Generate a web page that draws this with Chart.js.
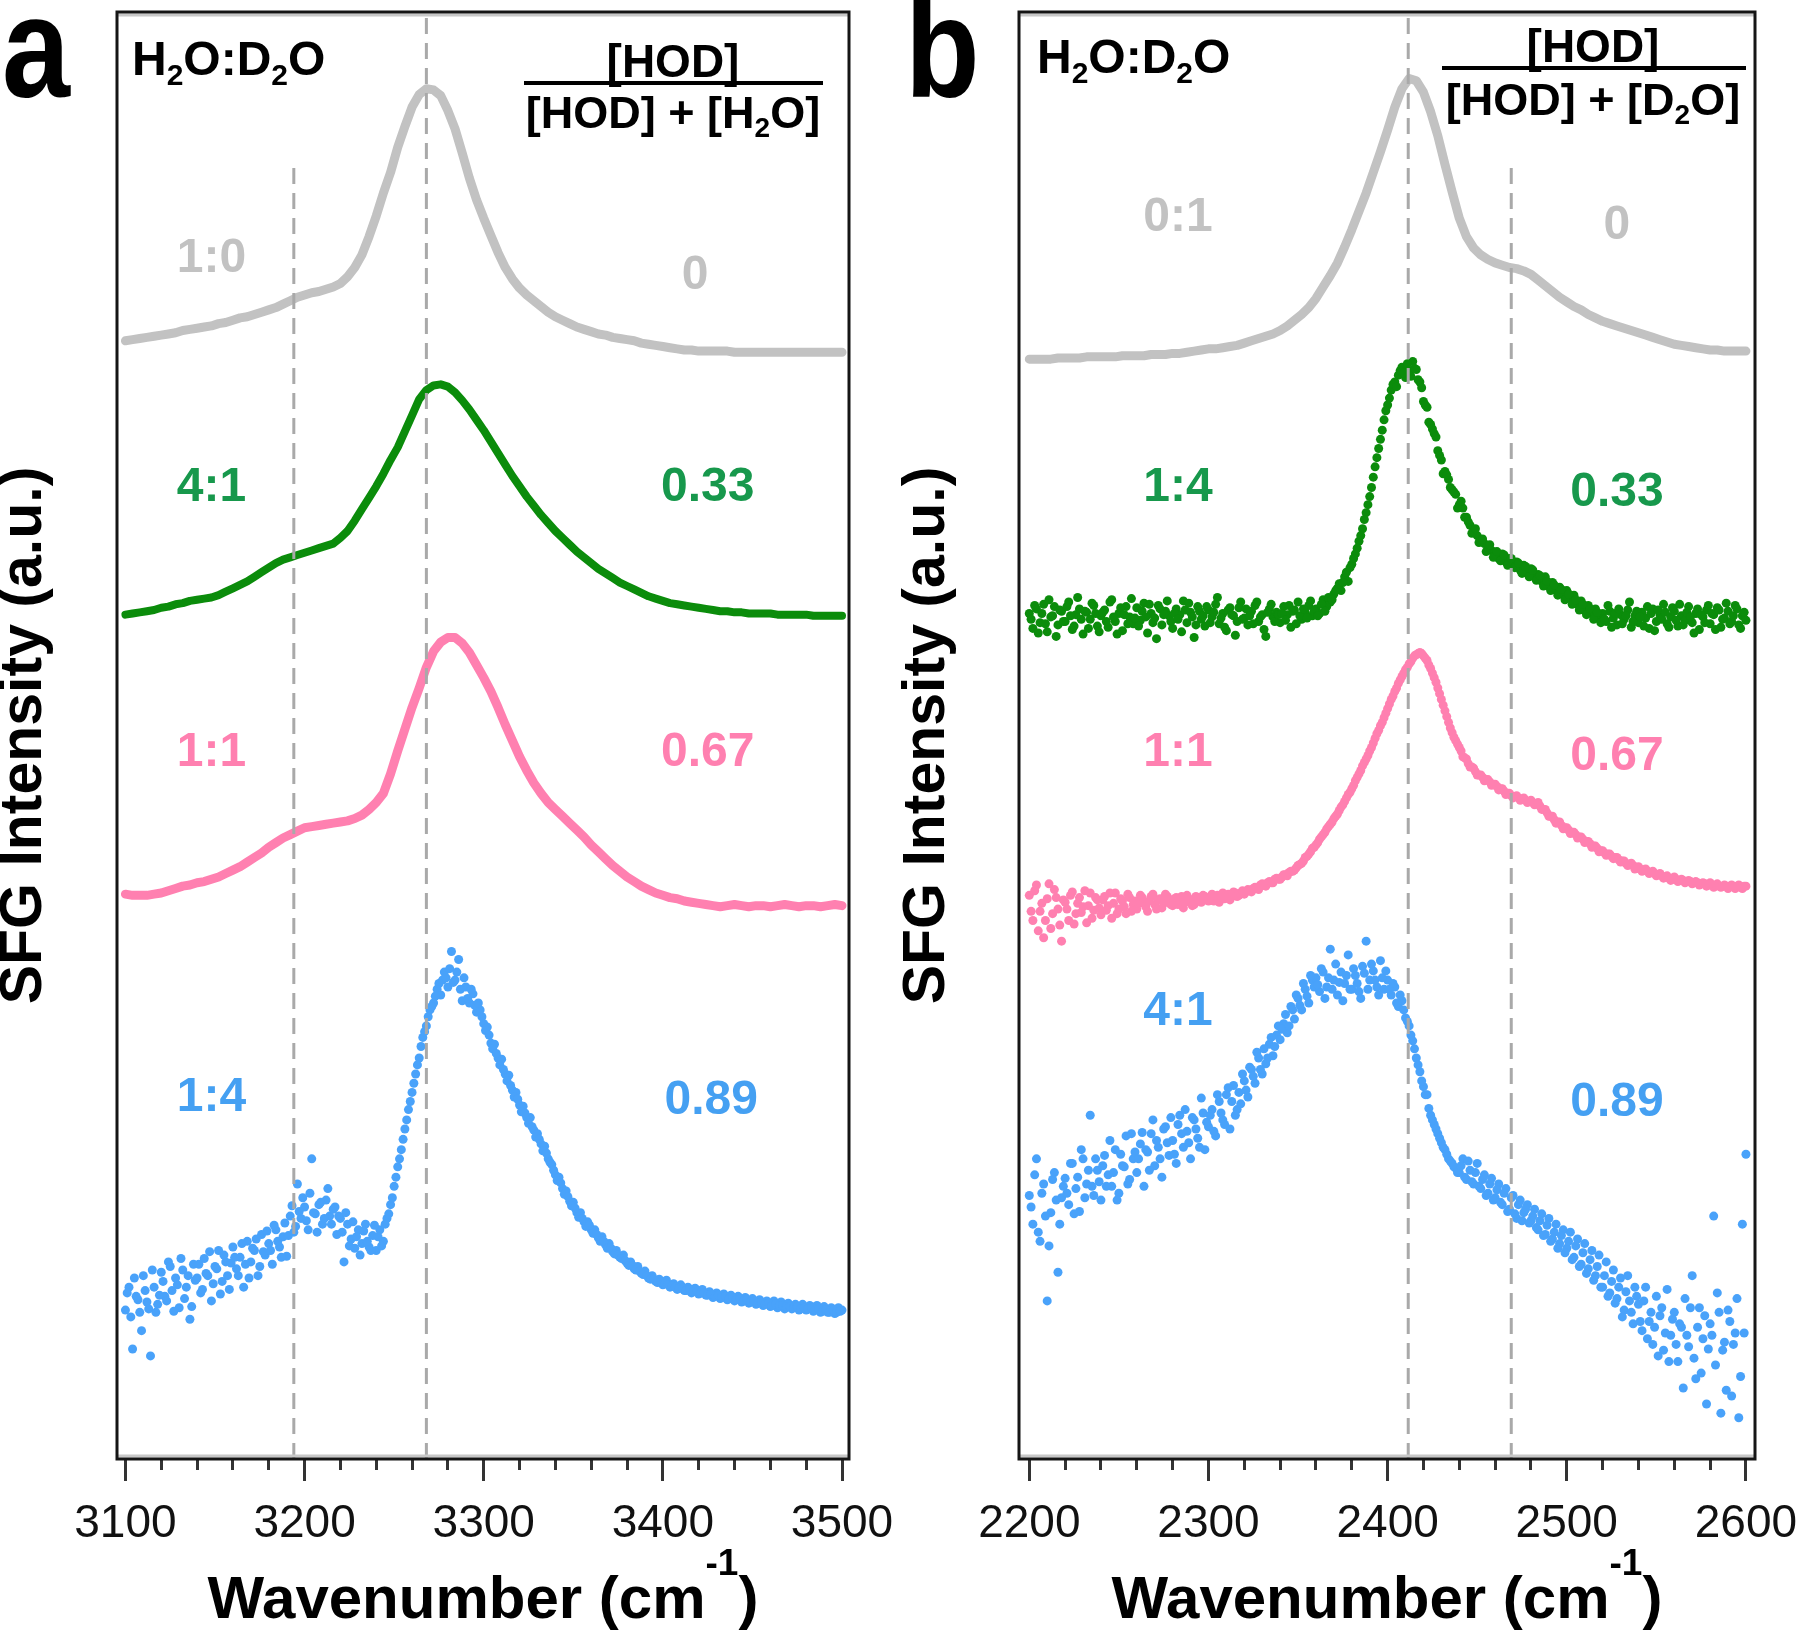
<!DOCTYPE html>
<html>
<head>
<meta charset="utf-8">
<title>SFG spectra of H2O/D2O mixtures</title>
<script src="https://cdn.jsdelivr.net/npm/chart.js@4.4.1/dist/chart.umd.min.js"></script>
<style>
  html, body { margin: 0; padding: 0; background: #ffffff; }
  body { width: 1797px; height: 1631px; position: relative; overflow: hidden; }
  canvas { position: absolute; top: 0; }
  #panelA { left: 0; }
  #panelB { left: 900px; }
</style>
</head>
<body>
<canvas id="panelA" width="900" height="1631"></canvas>
<canvas id="panelB" width="897" height="1631"></canvas>
<script>
// ================= DATA (arbitrary units) =================
// x tick labels
const tickValuesA = [3100, 3200, 3300, 3400, 3500];
const tickValuesB = [2200, 2300, 2400, 2500, 2600];
// sample categories (H2O:D2O ratio) and HOD fractions
const mixA = ['1:0', '4:1', '1:1', '1:4'];
const mixB = ['0:1', '1:4', '1:1', '4:1'];
const fracA = ['0', '0.33', '0.67', '0.89'];
const fracB = ['0', '0.33', '0.67', '0.89'];
// dashed reference positions (cm-1) and how high they reach
const peakLinesA = [3194, 3268];
const peakTopsA = [1133, 1263];
const peakLinesB = [2411.5, 2469];
const peakTopsB = [1263, 1133];

// panel a, sampled every 4 cm-1 from 3100 to 3500
const grayA = [
  976,977,978,979,980,981,982,983,985,986,
  987,988,989,991,992,994,996,997,999,1001,
  1003,1005,1008,1011,1014,1016,1018,1019,1021,1023,
  1026,1032,1040,1051,1067,1085,1105,1123,1145,1163,
  1180,1191,1196,1195,1190,1177,1161,1140,1118,1099,
  1083,1068,1053,1040,1030,1022,1016,1011,1006,1001,
  997,994,991,988,986,984,982,981,979,978,
  977,976,974,973,972,971,970,969,968,968,
  967,967,967,967,967,966,966,966,966,966,
  966,966,966,966,966,966,966,966,966,966,
  966];
const greenA = [
  737,738,739,740,741,743,744,746,747,749,
  750,751,752,754,757,760,763,766,770,774,
  778,782,785,787,789,791,793,795,797,799,
  804,810,819,829,839,849,860,872,883,897,
  911,925,933,937,938,936,931,924,916,907,
  898,888,878,868,858,849,840,832,824,817,
  810,804,798,792,787,782,777,773,769,765,
  762,759,756,753,751,749,747,746,745,744,
  743,742,741,740,740,739,739,738,738,738,
  738,737,737,737,737,737,736,736,736,736,
  736];
const pinkA = [
  493,492,492,492,493,494,496,498,500,501,
  503,504,506,508,511,514,517,521,525,529,
  534,538,542,545,548,551,552,553,554,555,
  556,557,559,562,567,573,581,598,618,637,
  656,673,691,705,713,717,717,712,704,693,
  682,670,656,641,627,613,601,590,581,573,
  567,561,555,549,543,536,530,524,518,513,
  508,504,500,497,494,492,490,489,487,486,
  485,484,483,482,483,484,483,482,483,483,
  482,483,484,483,482,483,483,482,483,484,
  483];
// panel a, 1:4 mixture: even wavenumbers 3100..3500 and odd wavenumbers 3101..3499
const blueA = [
  130,150,96,142,128,160,137,90,150,135,
  163,142,172,147,158,132,165,150,122,170,
  158,145,175,160,138,168,182,155,172,148,
  185,166,176,150,190,172,182,160,196,178,
  188,170,200,185,194,177,212,198,240,210,
  220,200,262,214,222,205,226,212,218,196,
  210,172,205,192,184,200,188,205,185,195,
  182,200,190,210,222,238,255,270,288,305,
  320,336,350,368,378,392,398,410,405,425,
  412,443,418,436,400,412,398,406,390,392,
  380,377,363,362,350,349,336,335,322,320,
  309,308,298,298,287,284,275,273,262,257,
  248,246,236,234,225,224,215,215,207,207,
  200,200,193,194,187,188,181,182,176,178,
  171,172,166,168,162,164,158,160,155,157,
  152,156,150,153,148,152,147,150,145,149,
  144,148,143,146,141,145,140,144,139,143,
  138,142,137,141,136,140,135,139,134,138,
  133,138,132,137,131,136,131,135,130,135,
  130,134,129,134,128,133,128,132,127,132,
  130];
const blueAodd = [
  145,124,158,139,112,147,131,165,128,143,
  155,138,168,129,152,175,140,160,133,156,
  170,148,162,181,153,166,144,178,160,171,
  176,160,188,170,158,184,192,168,181,199,
  182,204,190,176,206,195,221,203,216,228,
  208,232,215,198,224,210,236,205,220,212,
  198,215,186,207,194,178,199,190,182,204,
  194,186,205,214,228,246,262,279,296,312,
  328,344,360,373,386,395,404,415,418,420,
  428,416,425,410,420,402,410,396,398,386,
  374,370,358,354,344,340,330,326,316,314,
  303,302,293,290,281,279,269,267,259,252,
  243,241,231,229,221,219,211,210,203,204,
  197,196,190,190,184,184,179,178,175,173,
  169,169,165,164,161,160,157,157,154,155,
  153,152,151,150,149,149,147,148,146,146,
  145,145,143,144,142,143,141,142,140,141,
  139,140,138,139,137,138,136,137,135,136,
  134,135,134,134,133,133,132,133,131,132,
  131,132,130,131,129,130,128,130,128,129];

// panel b, 0:1 mixture sampled every 4 cm-1 from 2200 to 2600
const grayB = [
  960,960,960,960,961,961,961,961,962,962,
  962,962,962,963,963,963,963,964,964,964,
  965,965,966,967,968,969,969,970,971,972,
  974,976,978,980,982,985,989,994,999,1005,
  1013,1023,1033,1044,1058,1073,1089,1105,1123,1141,
  1160,1180,1196,1205,1203,1193,1176,1155,1130,1106,
  1083,1067,1057,1051,1047,1044,1042,1040,1039,1037,
  1034,1029,1024,1019,1014,1010,1006,1003,999,996,
  993,991,989,987,985,983,981,979,977,975,
  973,972,971,970,969,968,968,967,967,967,
  967];
// panel b noisy spectra: even wavenumbers 2200..2600 and odd wavenumbers 2201..2599
const greenB = [
  738,725,742,730,746,722,735,744,728,740,
  731,748,724,737,742,720,739,733,745,727,
  736,741,726,750,731,738,723,744,735,729,
  743,732,747,721,738,734,745,728,740,736,
  725,742,737,749,730,739,717,744,733,727,
  741,735,746,729,738,723,743,736,731,748,
  734,728,740,745,731,737,718,742,735,739,
  730,744,737,726,741,748,733,739,745,736,
  742,738,750,744,748,755,760,758,770,766,
  781,790,801,812,826,840,857,874,890,907,
  920,933,940,946,953,944,950,958,951,940,
  923,918,903,895,880,872,862,855,846,842,
  833,830,822,815,810,806,801,799,795,793,
  791,786,790,783,786,779,783,776,780,773,
  777,770,772,766,770,762,765,758,761,755,
  758,751,754,746,749,741,745,738,742,735,
  738,731,740,734,728,737,733,741,726,736,
  730,739,734,725,742,731,737,746,729,735,
  740,727,736,732,744,730,738,724,735,741,
  729,737,743,726,734,740,731,745,728,736,
  732];
const greenBodd = [
  733,745,721,738,729,750,736,718,741,731,
  744,736,727,752,733,740,725,747,738,722,
  739,731,748,735,720,743,737,729,751,734,
  727,740,735,746,730,716,742,737,749,731,
  738,733,722,741,747,735,728,740,736,744,
  730,739,752,734,726,741,737,719,743,733,
  742,736,729,748,735,724,739,746,731,737,
  738,732,745,740,729,736,742,734,749,740,
  736,746,740,752,750,758,764,765,774,778,
  786,795,806,820,833,848,866,882,898,915,
  926,938,936,950,948,956,945,952,942,935,
  920,905,899,892,876,860,859,848,844,830,
  836,822,818,808,812,800,803,792,798,787,
  792,784,789,780,786,778,782,773,779,770,
  776,767,771,762,766,758,763,754,759,750,
  755,746,750,741,746,737,742,733,739,730,
  733,745,726,738,742,729,736,748,731,740,
  735,727,744,738,723,741,733,739,726,743,
  732,746,728,739,735,721,742,737,730,745,
  738,724,741,733,747,729,736,742,725,739];
const pinkB = [
  492,470,501,478,455,489,463,497,480,452,
  486,470,495,476,490,482,468,494,479,488,
  475,491,483,472,494,480,487,476,490,484,
  480,492,485,478,491,484,488,481,493,486,
  483,490,486,481,492,487,484,490,486,491,
  487,493,489,486,494,490,488,495,491,494,
  493,497,495,499,497,502,500,504,503,507,
  506,510,509,513,514,518,520,525,528,533,
  536,541,545,550,554,559,563,569,574,580,
  585,592,598,605,611,618,625,633,640,647,
  655,663,670,677,683,689,694,699,702,704,
  701,697,690,682,673,663,653,643,634,627,
  621,613,611,604,603,597,597,592,593,588,
  589,584,585,580,581,577,579,575,577,573,
  575,571,573,567,567,561,561,555,556,550,
  551,546,547,542,543,538,539,534,535,530,
  531,527,528,524,525,521,522,518,520,515,
  517,513,515,511,513,509,511,507,509,505,
  508,504,506,503,505,502,504,501,503,500,
  503,499,502,499,501,498,501,498,501,498,
  500];
const pinkBodd = [
  478,496,461,485,470,502,476,490,466,488,
  480,492,467,485,477,496,483,472,490,481,
  488,479,494,485,476,489,482,493,478,487,
  485,490,482,487,493,480,489,485,491,484,
  489,484,491,486,489,483,491,487,492,488,
  490,487,492,491,489,493,491,494,492,496,
  495,496,498,498,501,501,503,503,506,506,
  508,510,512,513,516,519,522,526,530,534,
  538,543,547,552,556,561,566,571,577,582,
  588,595,601,608,614,621,629,636,643,651,
  659,666,673,680,686,691,696,701,703,703,
  699,693,686,678,668,658,648,638,630,624,
  618,612,607,604,600,597,595,593,591,589,
  587,585,583,581,579,578,577,576,575,574,
  573,572,570,567,564,561,558,556,553,551,
  549,547,545,543,541,539,537,535,533,531,
  529,528,526,525,523,522,520,519,518,516,
  515,514,513,512,511,510,509,508,507,506,
  506,505,505,504,504,503,503,502,502,501,
  501,501,500,500,500,500,500,500,499,500];
const blueB = [
  230,205,262,190,240,138,215,250,163,228,
  245,222,258,236,216,262,240,300,230,252,
  226,265,248,238,270,232,256,282,244,262,
  250,275,238,268,284,256,272,246,290,265,
  278,258,300,272,286,262,296,280,315,270,
  290,305,282,312,296,318,288,326,305,310,
  330,316,340,328,350,336,345,362,352,370,
  366,380,372,395,384,402,392,410,398,418,
  420,408,425,412,445,418,405,425,415,440,
  410,422,408,430,452,418,426,412,435,410,
  418,405,412,395,400,385,378,365,350,338,
  325,318,300,292,284,276,270,262,258,254,
  250,262,244,252,240,258,236,248,232,245,
  228,240,222,236,218,230,210,226,215,222,
  208,218,200,214,196,210,192,205,188,200,
  184,198,176,192,170,188,166,182,160,178,
  150,172,145,165,140,158,130,160,128,150,
  135,112,150,120,100,142,125,95,148,108,
  128,85,115,140,98,160,70,132,105,48,
  118,212,145,40,102,130,55,110,36,205,
  266];
const blueBodd = [
  220,248,198,232,212,186,244,226,205,238,
  232,258,214,246,270,228,252,238,262,242,
  256,238,278,250,226,266,255,240,284,268,
  262,285,270,252,296,278,262,288,276,298,
  266,292,284,305,276,298,288,272,302,294,
  300,286,318,302,292,324,312,300,320,336,
  322,342,334,355,340,358,350,368,360,378,
  375,388,378,392,405,396,415,404,422,412,
  414,428,402,420,410,432,416,400,422,410,
  428,415,402,424,410,432,418,405,420,426,
  410,415,398,405,392,382,370,358,344,330,
  318,306,296,288,280,272,266,260,255,250,
  256,246,260,242,250,238,244,230,240,226,
  235,224,232,216,228,214,222,208,218,206,
  212,202,208,195,204,190,198,184,195,180,
  190,174,186,168,180,162,174,156,168,150,
  160,142,155,136,150,124,146,138,118,142,
  120,138,105,128,115,90,132,110,85,122,
  100,118,62,108,132,88,115,75,125,96,
  108,82,128,95,60,120,100,140,72,110];

// sampling grids (wavenumbers, cm-1)
function grid(start, end, step) { const g = []; for (let v = start; v <= end; v += step) g.push(v); return g; }
const wnA4 = grid(3100, 3500, 4), wnA2 = grid(3100, 3500, 2), wnA2odd = grid(3101, 3499, 2);
const wnB4 = grid(2200, 2600, 4), wnB2 = grid(2200, 2600, 2), wnB2odd = grid(2201, 2599, 2);
const xy = (g, vals) => vals.map((v, i) => ({x: g[i], y: v}));

// ================= STYLE =================
const FONT = "'Liberation Sans', Arial, Helvetica, sans-serif";
const C = {gray: '#c2c2c2', green: '#0b8c0b', greenText: '#17984c', pink: '#ff80b0', blue: '#49a2fa', blueText: '#45a0f2', dash: '#a9a9a9'};
function hasFont(name) {
  const c = document.createElement('canvas').getContext('2d');
  const s = 'Wavenumber 3100 2600';
  c.font = '50px monospace'; const w0 = c.measureText(s).width;
  c.font = "50px '" + name + "', monospace"; return Math.abs(c.measureText(s).width - w0) > 0.5;
}
const NARROW = hasFont('Liberation Sans Narrow');
const TICK_FONT = NARROW ? {family: "'Liberation Sans Narrow', 'Liberation Sans', Arial, sans-serif", size: 56}
                         : {family: FONT, size: 46};

function drawRich(ctx, parts, x, y, align, size, color) {
  const fontFor = k => 'bold ' + (k ? Math.round(size * 0.62) : size) + 'px ' + FONT;
  let w = 0;
  for (const [t, k] of parts) { ctx.font = fontFor(k); w += ctx.measureText(t).width; }
  let cx = align === 'center' ? x - w / 2 : x;
  ctx.fillStyle = color; ctx.textAlign = 'left'; ctx.textBaseline = 'alphabetic';
  for (const [t, k] of parts) {
    ctx.font = fontFor(k);
    const dy = k === 1 ? size * 0.2 : (k === 2 ? -size * 0.72 : 0);
    ctx.fillText(t, cx, y + dy);
    cx += ctx.measureText(t).width;
  }
}

const decor = {
  id: 'decor',
  afterDraw(chart, _a, o) {
    const {ctx, chartArea: ca, scales: {x, y}} = chart;
    ctx.save();
    ctx.strokeStyle = '#c8c8c8'; ctx.lineWidth = 3;
    ctx.beginPath();
    ctx.moveTo(ca.left, ca.top + 3); ctx.lineTo(ca.right, ca.top + 3);
    ctx.moveTo(ca.left, ca.bottom - 3); ctx.lineTo(ca.right, ca.bottom - 3);
    ctx.stroke();
    ctx.strokeStyle = '#151515'; ctx.lineWidth = 3;
    ctx.strokeRect(ca.left, ca.top, ca.right - ca.left, ca.bottom - ca.top);
    // sample labels
    ctx.textAlign = 'center'; ctx.textBaseline = 'middle';
    ctx.font = 'bold 48px ' + FONT;
    for (const L of o.labels) { ctx.fillStyle = L.c; ctx.fillText(L.t, x.getPixelForValue(L.x), y.getPixelForValue(L.y)); }
    // panel letter (slightly condensed like the original)
    ctx.save();
    ctx.translate(o.letterX, 97); ctx.scale(0.86, 1);
    ctx.fillStyle = '#000'; ctx.textAlign = 'left'; ctx.textBaseline = 'alphabetic';
    ctx.font = 'bold 142px ' + FONT; ctx.fillText(o.letter, 0, 0);
    ctx.restore();
    // headers
    drawRich(ctx, o.header, ca.left + o.headerDx, o.headerY, 'left', 48, '#000');
    const f = o.frac;
    drawRich(ctx, f.top, f.cx, f.topY, 'center', 46, '#000');
    ctx.fillStyle = '#000'; ctx.fillRect(f.x0, f.lineY - 2, f.x1 - f.x0, 4);
    drawRich(ctx, f.bottom, f.cx, f.botY, 'center', 45, '#000');
    // x axis title
    drawRich(ctx, [['Wavenumber (cm', 0], ['-1', 2], [')', 0]], (ca.left + ca.right) / 2, 1618, 'center', 60, '#000');
    ctx.restore();
  }
};

function lineSet(data, color, width) {
  return {data, showLine: true, borderColor: color, backgroundColor: color, borderWidth: width, pointRadius: 0,
          borderJoinStyle: 'round', borderCapStyle: 'round', order: 2};
}
function dotSet(data, color, r) {
  return {data, showLine: false, pointRadius: r, pointHoverRadius: r, pointBackgroundColor: color, pointBorderWidth: 0, order: 2};
}
function dashSet(xv, top) {
  return {data: [{x: xv, y: 0}, {x: xv, y: top}], showLine: true, borderColor: C.dash, borderWidth: 3,
          borderDash: [16, 9], pointRadius: 0, order: 0};
}

function makeChart(id, cfg) {
  return new Chart(document.getElementById(id), {
    type: 'scatter',
    data: {datasets: cfg.datasets},
    options: {
      responsive: false, animation: false, devicePixelRatio: 1,
      layout: {padding: {top: 12, right: cfg.padRight, bottom: 0, left: 0}},
      plugins: {legend: {display: false}, tooltip: {enabled: false}, decor: cfg.decor},
      elements: {line: {tension: 0}},
      scales: {
        x2: {type: 'linear', position: 'bottom', weight: 0, min: cfg.min, max: cfg.max, display: true,
          ticks: {display: false, stepSize: 20, includeBounds: false},
          grid: {display: true, drawOnChartArea: false, drawTicks: true, tickLength: 11, tickWidth: 3, tickColor: '#333'},
          border: {display: false},
          afterFit: s => { s.height = 0; s.paddingLeft = 0; s.paddingRight = 0; }},
        x: {type: 'linear', position: 'bottom', weight: 1, min: cfg.min, max: cfg.max,
          afterBuildTicks: s => { s.ticks = cfg.ticks.map(v => ({value: v})); },
          ticks: {autoSkip: false, maxRotation: 0, minRotation: 0, font: TICK_FONT, color: '#111', padding: 16,
                  callback: v => String(v)},
          grid: {display: true, drawOnChartArea: false, drawTicks: true, tickLength: 22, tickWidth: 3, tickColor: '#333'},
          border: {display: false},
          afterFit: s => { s.height = 1631 - 1459; s.paddingLeft = 0; s.paddingRight = 0; }},
        y: {type: 'linear', position: 'left', min: 0, max: 1263,
          ticks: {display: false}, grid: {display: false}, border: {display: false},
          title: {display: true, text: 'SFG Intensity (a.u.)', color: '#000',
                  font: {family: FONT, size: 59, weight: 'bold', lineHeight: 1}, padding: {top: cfg.titlePad, bottom: 0}},
          afterFit: s => { s.width = cfg.yWidth; }}
      }
    },
    plugins: [decor]
  });
}

// ---------- panel a ----------
makeChart('panelA', {
  min: 3095.3, max: 3503.9, ticks: tickValuesA, padRight: 51, yWidth: 117, titlePad: -4.5,
  datasets: [
    dashSet(peakLinesA[0], peakTopsA[0]), dashSet(peakLinesA[1], peakTopsA[1]),
    lineSet(xy(wnA4, grayA), C.gray, 9),
    lineSet(xy(wnA4, greenA), C.green, 8),
    lineSet(xy(wnA4, pinkA), C.pink, 9),
    dotSet(xy(wnA2, blueA).concat(xy(wnA2odd, blueAodd)), C.blue, 4.5)
  ],
  decor: {
    letter: 'a', letterX: 2, header: [['H', 0], ['2', 1], ['O:D', 0], ['2', 1], ['O', 0]], headerDx: 15, headerY: 75,
    frac: {top: [['[HOD]', 0]], bottom: [['[HOD] + [H', 0], ['2', 1], ['O]', 0]], cx: 673, topY: 77, lineY: 83, x0: 524, x1: 823, botY: 128},
    labels: [
      {t: mixA[0], x: 3148, y: 1048, c: C.gray}, {t: fracA[0], x: 3418, y: 1033, c: C.gray},
      {t: mixA[1], x: 3148, y: 848, c: C.greenText}, {t: fracA[1], x: 3425, y: 848, c: C.greenText},
      {t: mixA[2], x: 3148, y: 616, c: C.pink}, {t: fracA[2], x: 3425, y: 616, c: C.pink},
      {t: mixA[3], x: 3148, y: 315, c: C.blueText}, {t: fracA[3], x: 3427, y: 313, c: C.blueText}
    ]
  }
});

// ---------- panel b ----------
makeChart('panelB', {
  min: 2194.25, max: 2605.05, ticks: tickValuesB, padRight: 42, yWidth: 119, titlePad: -1.5,
  datasets: [
    dashSet(peakLinesB[0], peakTopsB[0]), dashSet(peakLinesB[1], peakTopsB[1]),
    lineSet(xy(wnB4, grayB), C.gray, 9),
    dotSet(xy(wnB2, greenB).concat(xy(wnB2odd, greenBodd)), C.green, 4.5),
    dotSet(xy(wnB2, pinkB).concat(xy(wnB2odd, pinkBodd)), C.pink, 4.5),
    dotSet(xy(wnB2, blueB).concat(xy(wnB2odd, blueBodd)), C.blue, 4.5)
  ],
  decor: {
    letter: 'b', letterX: 5, header: [['H', 0], ['2', 1], ['O:D', 0], ['2', 1], ['O', 0]], headerDx: 18, headerY: 73,
    frac: {top: [['[HOD]', 0]], bottom: [['[HOD] + [D', 0], ['2', 1], ['O]', 0]], cx: 693, topY: 62, lineY: 68, x0: 542, x1: 846, botY: 115},
    labels: [
      {t: mixB[0], x: 2283, y: 1083, c: C.gray}, {t: fracB[0], x: 2528, y: 1076, c: C.gray},
      {t: mixB[1], x: 2283, y: 848, c: C.greenText}, {t: fracB[1], x: 2528, y: 843, c: C.greenText},
      {t: mixB[2], x: 2283, y: 616, c: C.pink}, {t: fracB[2], x: 2528, y: 613, c: C.pink},
      {t: mixB[3], x: 2283, y: 390, c: C.blueText}, {t: fracB[3], x: 2528, y: 311, c: C.blueText}
    ]
  }
});
</script>
</body>
</html>
